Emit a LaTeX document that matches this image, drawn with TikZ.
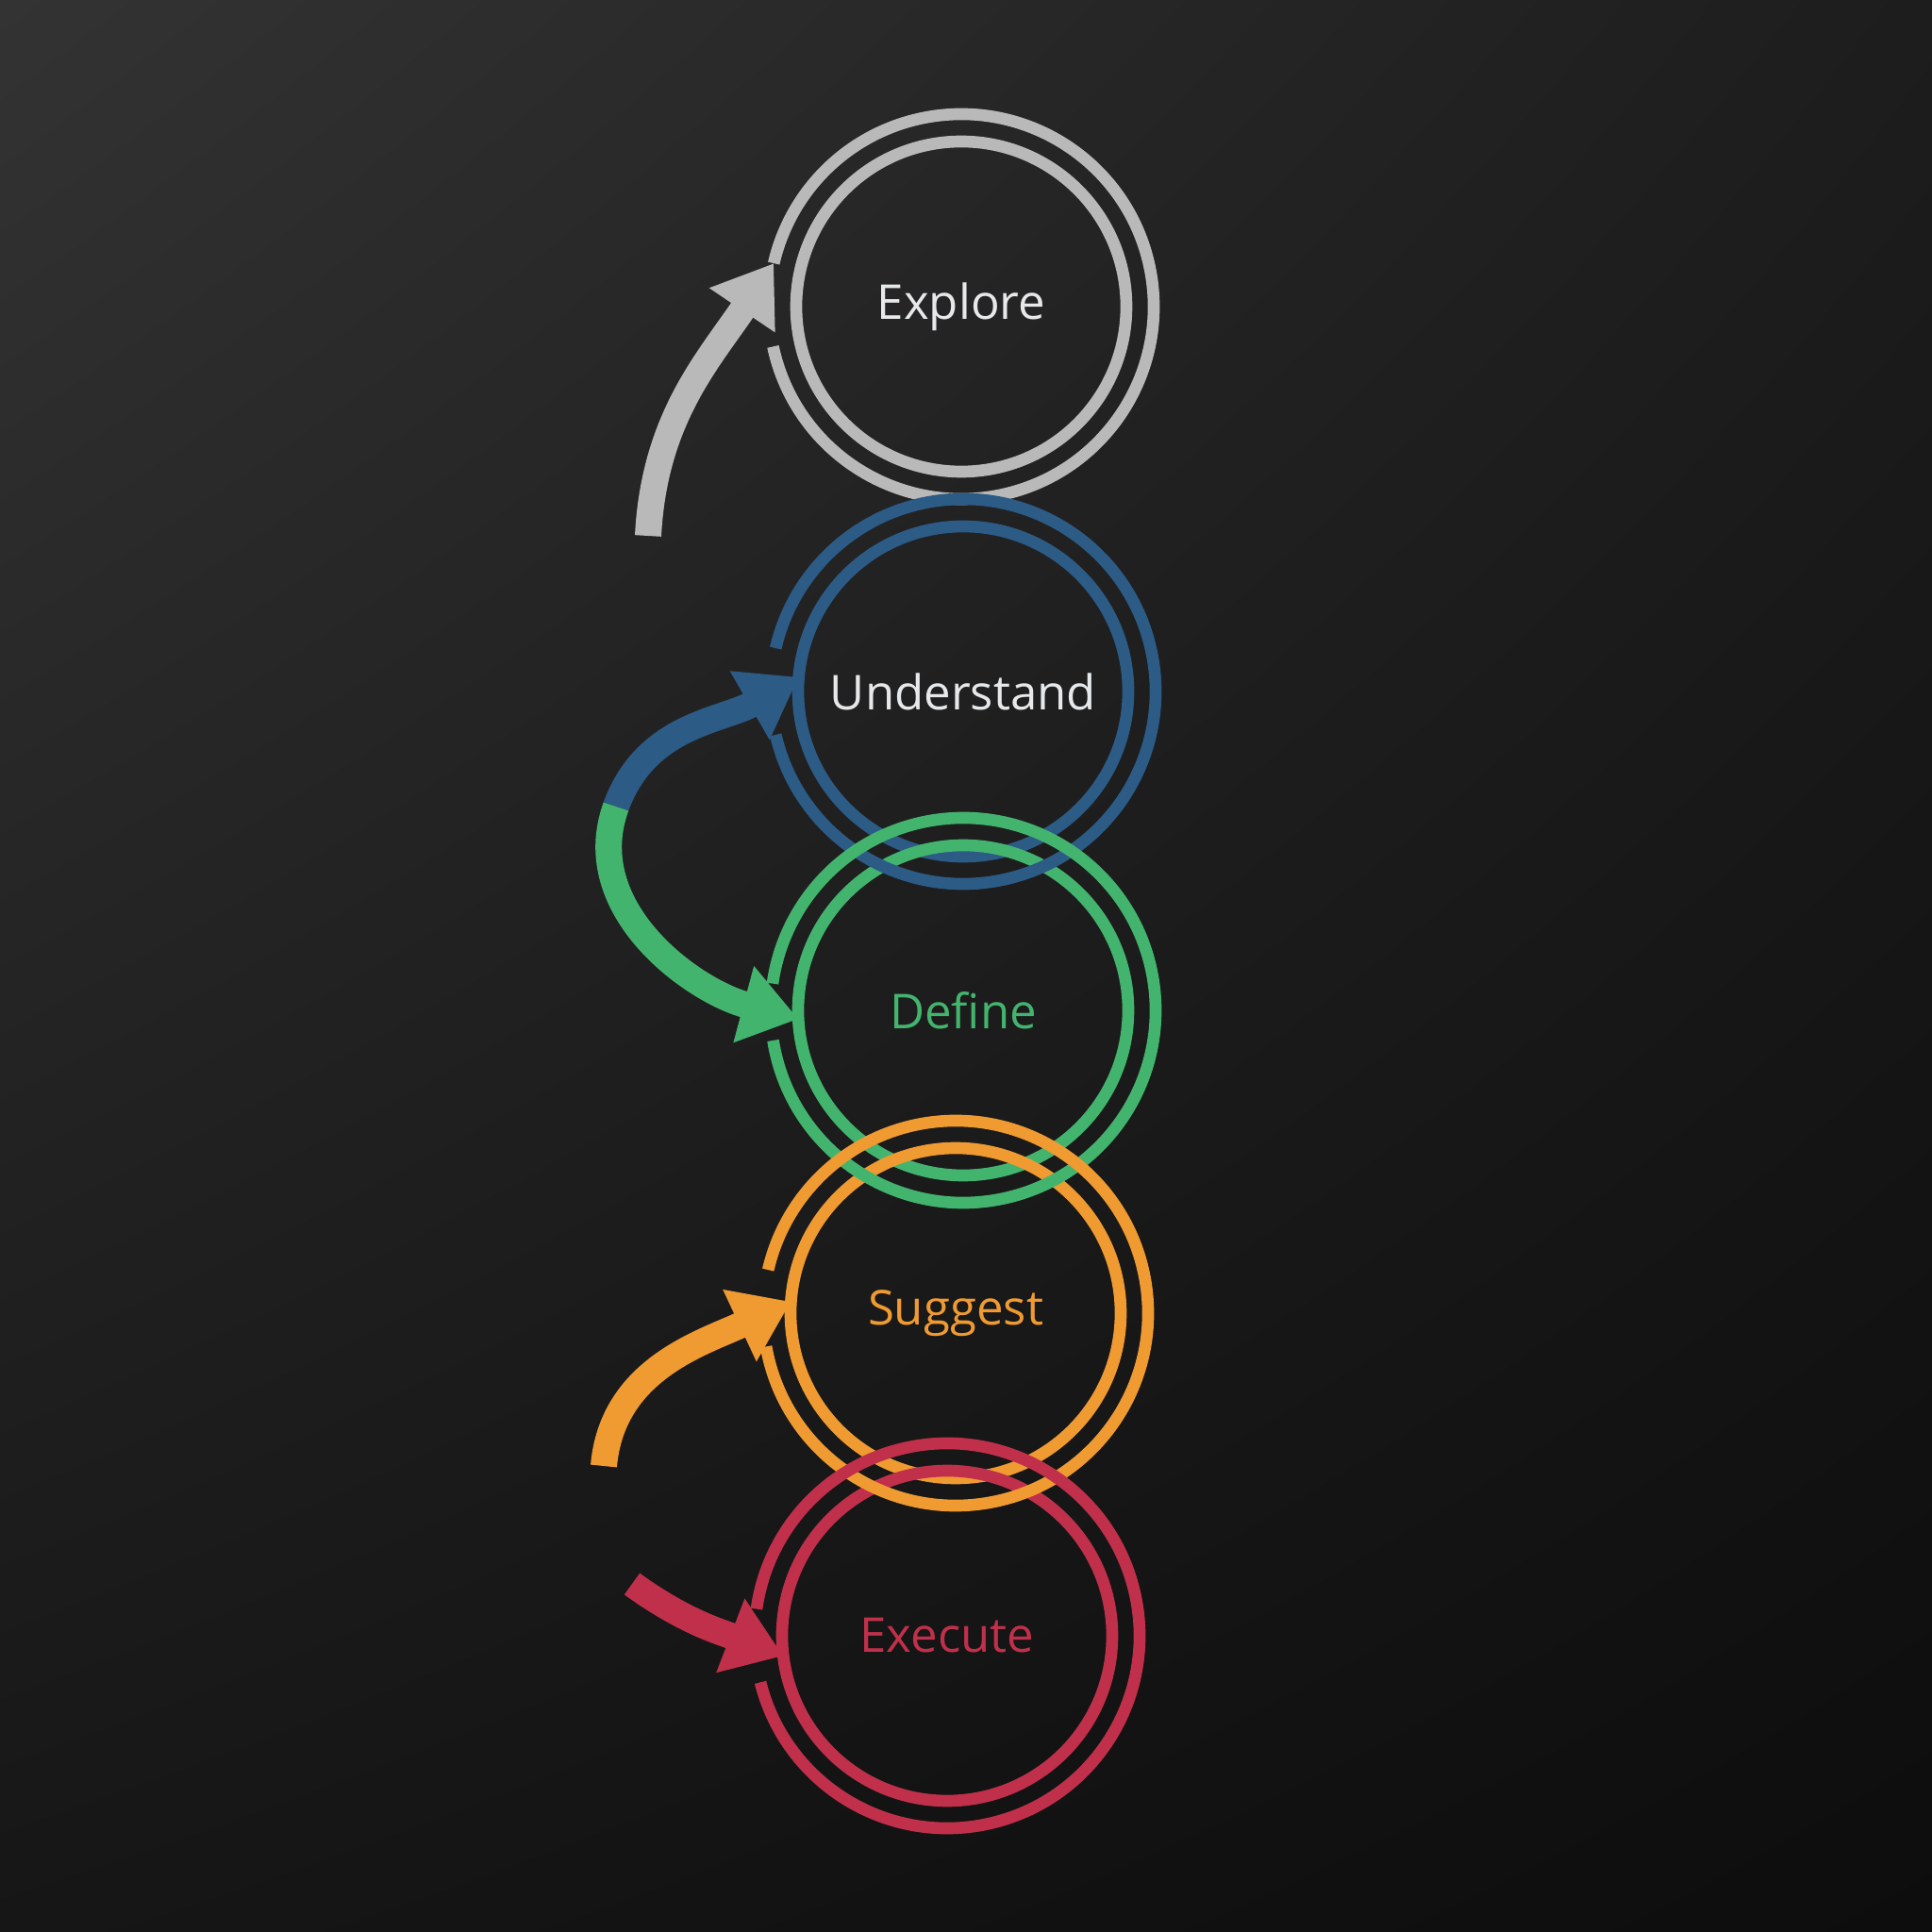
\documentclass[tikz,border=0pt]{standalone}
\usepackage{fontspec}
\setmainfont{Open Sans}
\usepackage{tikz}
\usetikzlibrary{positioning,arrows.meta,shadings}

\definecolor{stepgray}{HTML}{B9B9B9}
\definecolor{stepblue}{HTML}{2C5B86}
\definecolor{stepgreen}{HTML}{43B46E}
\definecolor{steporange}{HTML}{F09A32}
\definecolor{stepred}{HTML}{C0304A}
\definecolor{labelwhite}{HTML}{E6E8EA}
\definecolor{bgA}{HTML}{333333}
\definecolor{bgB}{HTML}{1D1D1D}
\definecolor{bgC}{HTML}{161616}
\definecolor{bgD}{HTML}{0D0D0D}

\begin{document}
\begin{tikzpicture}[
    stage/.style={circle, draw=#1, text=#1, line width=3.6pt, minimum size=3.5cm,
      inner sep=0pt, outer sep=0pt, font=\fontsize{14.5}{17}\selectfont},
    halo/.style={circle, minimum size=4.08cm, inner sep=0pt, outer sep=0pt},
    flow/.style={draw=#1, line width=0.28cm, -{Triangle[length=0.6cm,width=0.8cm]}}
  ]

  % Background
  \shade[upper left=bgA, upper right=bgB, lower left=bgC, lower right=bgD]
    (0,0) rectangle (20.48,20.48);

  % Define nodes
  \node[stage=stepgray, text=labelwhite] (explore) at (10.19,17.23) {Explore};
  \node[stage=stepblue, text=labelwhite, below=0.58 of explore, xshift=0.02cm] (understand) {Understand};
  \node[stage=stepgreen, below=-0.12 of understand] (define) {Define};
  \node[stage=steporange, below=-0.29 of define, xshift=-0.08cm] (suggest) {Suggest};
  \node[stage=stepred, below=-0.08 of suggest, xshift=-0.09cm] (execute) {Execute};

  % Outer rings, open on the left
  \foreach \n/\c/\a/\b in {explore/stepgray/167/192, understand/stepblue/167/193,
      define/stepgreen/172/189, suggest/steporange/167/190, execute/stepred/172/194} {
    \node[halo] (\n-o) at (\n) {};
    \draw[\c, line width=3.6pt] (\n-o.\b) arc[start angle=\b, end angle=\a+360, radius=2.04cm];
  }

  % Arrow tails
  \coordinate (explore-tail) at (6.87,14.80);
  \coordinate (split) at (6.53,11.93);
  \coordinate (suggest-tail) at (6.40,4.94);
  \coordinate (execute-tail) at (6.70,3.69);

  % Connect the nodes
  \draw[flow=stepgray] (explore-tail) to[out=87, in=236] (explore-o.167);
  \draw[flow=stepblue] (split) to[out=70, in=210] (understand.175);
  \draw[flow=stepgreen] (split) to[out=250, in=165] (define.183);
  \draw[flow=steporange] (suggest-tail) to[out=85, in=205] (suggest.176);
  \draw[flow=stepred] (execute-tail) to[out=-36, in=159] (execute.187);

\end{tikzpicture}
\end{document}
